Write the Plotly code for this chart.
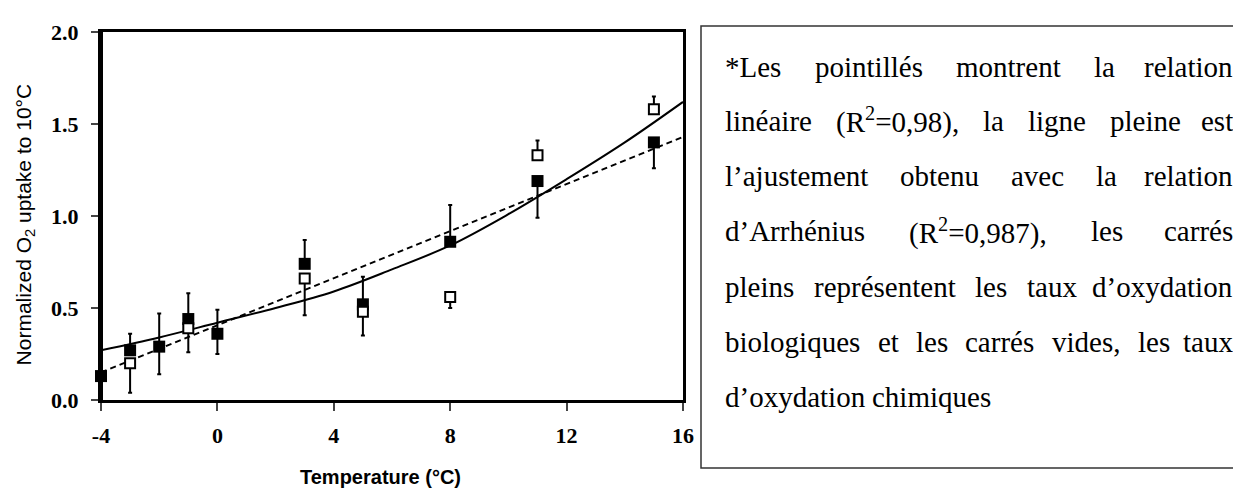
import plotly.graph_objects as go

# Données
temp_bio = [-4, -3, -2, -1, 0, 3, 5, 8, 11, 15]
uptake_bio = [0.13, 0.27, 0.29, 0.44, 0.36, 0.74, 0.52, 0.86, 1.19, 1.40]
err_bio_plus = [0.11, 0.09, 0.18, 0.14, 0.13, 0.13, 0.15, 0.20, 0.0, 0.0]
err_bio_minus = [0.12, 0.0, 0.15, 0.0, 0.11, 0.0, 0.0, 0.0, 0.20, 0.14]

temp_chem = [-3, -1, 3, 5, 8, 11, 15]
uptake_chem = [0.20, 0.39, 0.66, 0.48, 0.56, 1.33, 1.58]
err_chem_plus = [0.0, 0.0, 0.0, 0.0, 0.0, 0.08, 0.07]
err_chem_minus = [0.16, 0.13, 0.20, 0.13, 0.06, 0.0, 0.0]

# ajustement d'Arrhénius (ligne pleine)
arr_x = [-4, -2, 0, 2, 4, 6, 8, 10, 12, 14, 16]
arr_y = [0.27, 0.34, 0.42, 0.50, 0.59, 0.71, 0.84, 1.01, 1.20, 1.40, 1.62]

# relation linéaire (pointillés)
lin_x = [-4, 16]
lin_y = [0.15, 1.43]

x_ticks = [-4, 0, 4, 8, 12, 16]
x_ticktext = ["-4", "0", "4", "8", "12", "16"]
y_ticks = [0, 0.5, 1.0, 1.5, 2.0]
y_ticktext = ["0.0", "0.5", "1.0", "1.5", "2.0"]

# Note (texte justifié, une liste de mots par ligne)
note_lines = [
    ["*Les", "pointillés", "montrent", "la", "relation"],
    ["linéaire", "(R<sup>2</sup>=0,98),", "la", "ligne", "pleine", "est"],
    ["l’ajustement", "obtenu", "avec", "la", "relation"],
    ["d’Arrhénius", "(R<sup>2</sup>=0,987),", "les", "carrés"],
    ["pleins", "représentent", "les", "taux", "d’oxydation"],
    ["biologiques", "et", "les", "carrés", "vides,", "les", "taux"],
    ["d’oxydation", "chimiques"],
]
note_y = [64, 119, 175, 231, 287, 343, 399]

# largeurs approx. (Times / Liberation Serif, en em)
char_w = {" ": .25, "*": .5, "L": .611, "R": .667, "A": .722, "e": .444, "é": .444, "s": .389, "p": .5,
          "o": .5, "i": .278, "n": .5, "t": .278, "l": .278, "m": .778, "r": .333, "a": .444, "(": .333,
          ")": .333, "=": .564, ",": .25, "g": .5, "’": .333, "j": .278, "u": .5, "b": .5, "v": .5,
          "c": .444, "d": .5, "h": .5, "x": .5, "y": .5, "q": .5, "k": .5}


def word_width(w, size):
    sup = w.count("<sup>")
    w = w.replace("<sup>2</sup>", "")
    em = sum(char_w.get(c, .5) for c in w) + sup * 0.35
    return em * size


W, H = 1241, 491
OFF = 8  # marge par défaut de la page html
L, R, T, B = 101, 683, 27, 400
TXT_L, TXT_R, TXT_SIZE = 723, 1235, 29


def px(x):
    return (x - L) / (R - L)


def py(y):
    return (B - y) / (B - T)


fig = go.Figure()

# Ligne pleine (Arrhénius)
fig.add_trace(go.Scatter(x=arr_x, y=arr_y, mode="lines", line=dict(color="black", width=2, shape="spline"),
                         showlegend=False))
# Pointillés (linéaire)
fig.add_trace(go.Scatter(x=lin_x, y=lin_y, mode="lines", line=dict(color="black", width=2, dash="6px,4px"),
                         showlegend=False))

# Carrés pleins : oxydation biologique
fig.add_trace(go.Scatter(x=temp_bio, y=uptake_bio, mode="markers",
                         marker=dict(symbol="square", size=12, color="black"),
                         error_y=dict(type="data", symmetric=False, array=err_bio_plus,
                                      arrayminus=err_bio_minus, color="black", thickness=2, width=2),
                         cliponaxis=False, showlegend=False))
# Carrés vides : oxydation chimique
fig.add_trace(go.Scatter(x=temp_chem, y=uptake_chem, mode="markers",
                         marker=dict(symbol="square", size=10, color="white", line=dict(color="black", width=2)),
                         error_y=dict(type="data", symmetric=False, array=err_chem_plus,
                                      arrayminus=err_chem_minus, color="black", thickness=2, width=2),
                         cliponaxis=False, showlegend=False))

tick_font = dict(family="Liberation Serif", size=22, color="black", weight="bold")
fig.update_xaxes(range=[-4, 16], tickvals=x_ticks, ticktext=x_ticktext, ticks="outside", ticklen=8, tickwidth=2,
                 showline=True, linewidth=3, linecolor="black", mirror=True, showgrid=False, zeroline=False,
                 tickfont=tick_font, ticklabelstandoff=6)
fig.update_yaxes(range=[0, 2], tickvals=y_ticks, ticktext=y_ticktext, ticks="outside", ticklen=7, tickwidth=2,
                 showline=True, linewidth=3, linecolor="black", mirror=True, showgrid=False, zeroline=False,
                 tickfont=tick_font, ticklabelstandoff=8)

# axe vertical plus épais, comme sur l'original
fig.add_shape(type="line", xref="paper", yref="paper", x0=0, x1=0, y0=0, y1=1,
              line=dict(color="black", width=4))

# Titres des axes
fig.add_annotation(x=px(380), y=py(478), xref="paper", yref="paper", text="Temperature (°C)",
                   showarrow=False, xanchor="center", yanchor="middle",
                   font=dict(family="Liberation Sans", size=20, color="black", weight="bold"))
fig.add_annotation(x=px(25), y=py(222), xref="paper", yref="paper", text="Normalized O<sub>2</sub> uptake to 10°C",
                   showarrow=False, xanchor="center", yanchor="middle", textangle=-90,
                   font=dict(family="Liberation Sans", size=21, color="black"))

# Cadre de la note
fig.add_shape(type="rect", xref="paper", yref="paper", x0=px(701), x1=px(1260), y0=py(21), y1=py(469),
              line=dict(color="#333333", width=1.5))

note_font = dict(family="Liberation Serif", size=TXT_SIZE, color="black")
for i, (words, yc) in enumerate(zip(note_lines, note_y)):
    widths = [word_width(w, TXT_SIZE) for w in words]
    last = i == len(note_lines) - 1
    if last or len(words) == 1:
        gap = 0.25 * TXT_SIZE
    else:
        gap = (TXT_R - TXT_L - sum(widths)) / (len(words) - 1)
    xpos = TXT_L
    for j, (w, wd) in enumerate(zip(words, widths)):
        if not last and j == len(words) - 1:
            fig.add_annotation(x=px(TXT_R), y=py(yc - 2), xref="paper", yref="paper", text=w,
                               xanchor="right", yanchor="middle", showarrow=False, font=note_font)
        else:
            fig.add_annotation(x=px(xpos), y=py(yc - 2), xref="paper", yref="paper", text=w,
                               xanchor="left", yanchor="middle", showarrow=False, font=note_font)
        xpos += wd + gap

fig.update_layout(width=W - OFF, height=H - OFF,
                  margin=dict(l=L - OFF, r=W - R, t=T - OFF, b=H - B),
                  plot_bgcolor="white", paper_bgcolor="white")

fig.write_html("out.html")
